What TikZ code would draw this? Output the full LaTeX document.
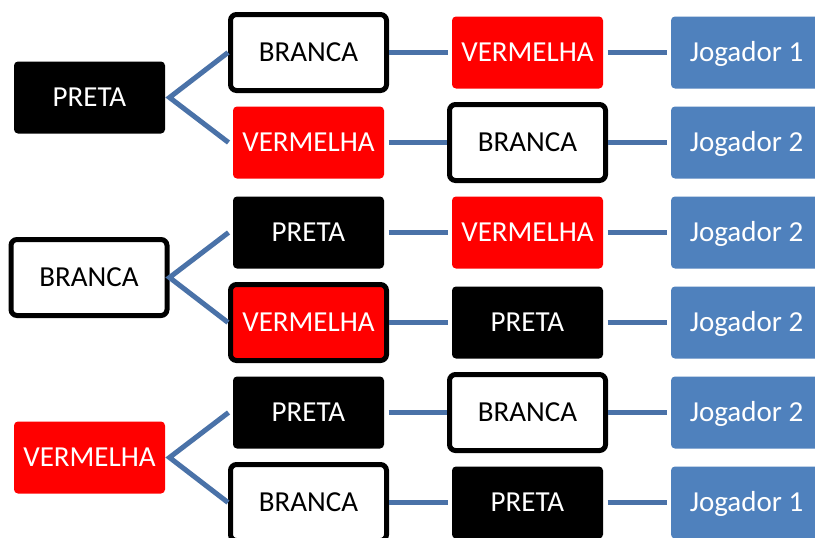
\documentclass[tikz,border=0pt]{standalone}
\usepackage{fontspec}
\setmainfont{Carlito}
\definecolor{jblue}{HTML}{4F81BD}
\definecolor{lineblue}{HTML}{4A72A8}
\begin{document}
\begin{tikzpicture}[x=1pt,y=-1pt,
  base/.style={rectangle, rounded corners=4pt, minimum width=151pt, minimum height=72pt,
    inner sep=0pt, outer sep=4.5pt, text height=18pt, text depth=0pt,
    font=\fontsize{29}{34}\selectfont},
  blackbox/.style={base, fill=black, text=white},
  redbox/.style={base, fill=red, text=white},
  bluebox/.style={base, fill=jblue, text=white},
  whitebox/.style={base, draw=black, line width=5pt, fill=white, text=black,
    minimum width=156pt, minimum height=76pt, rounded corners=6pt, outer sep=2.5pt},
  redborder/.style={whitebox, fill=red, text=white},
  conn/.style={draw=lineblue, line width=5pt}
]
\useasboundingbox (0,0) rectangle (815,538);
\fill[white] (0,0) rectangle (815,538);
% left column
\node[blackbox] (l1) at (89.5,97.5) {PRETA};
\node[whitebox] (l2) at (89,277.5) {BRANCA};
\node[redbox] (l3) at (89.5,457.5) {VERMELHA};
% column 2
\node[whitebox] (a1) at (308.5,52.5) {BRANCA};
\node[redbox] (a2) at (308.5,142.5) {VERMELHA};
\node[blackbox] (a3) at (308.5,232.5) {PRETA};
\node[redborder] (a4) at (308.5,322.5) {VERMELHA};
\node[blackbox] (a5) at (308.5,412.5) {PRETA};
\node[whitebox] (a6) at (308.5,502.5) {BRANCA};
% column 3
\node[redbox] (b1) at (527.5,52.5) {VERMELHA};
\node[whitebox] (b2) at (527.5,142.5) {BRANCA};
\node[redbox] (b3) at (527.5,232.5) {VERMELHA};
\node[blackbox] (b4) at (527.5,322.5) {PRETA};
\node[whitebox] (b5) at (527.5,412.5) {BRANCA};
\node[blackbox] (b6) at (527.5,502.5) {PRETA};
% column 4
\node[bluebox] (c1) at (746.5,52.5) {Jogador 1};
\node[bluebox] (c2) at (746.5,142.5) {Jogador 2};
\node[bluebox] (c3) at (746.5,232.5) {Jogador 2};
\node[bluebox] (c4) at (746.5,322.5) {Jogador 2};
\node[bluebox] (c5) at (746.5,412.5) {Jogador 2};
\node[bluebox] (c6) at (746.5,502.5) {Jogador 1};
% fans
\draw[conn] (a1.west) -- (l1.east) -- (a2.west);
\draw[conn] (a3.west) -- (l2.east) -- (a4.west);
\draw[conn] (a5.west) -- (l3.east) -- (a6.west);
% rows
\foreach \i in {1,...,6}{
  \draw[conn] (a\i.east) -- (b\i.west);
  \draw[conn] (b\i.east) -- (c\i.west);
}
\end{tikzpicture}
\end{document}
